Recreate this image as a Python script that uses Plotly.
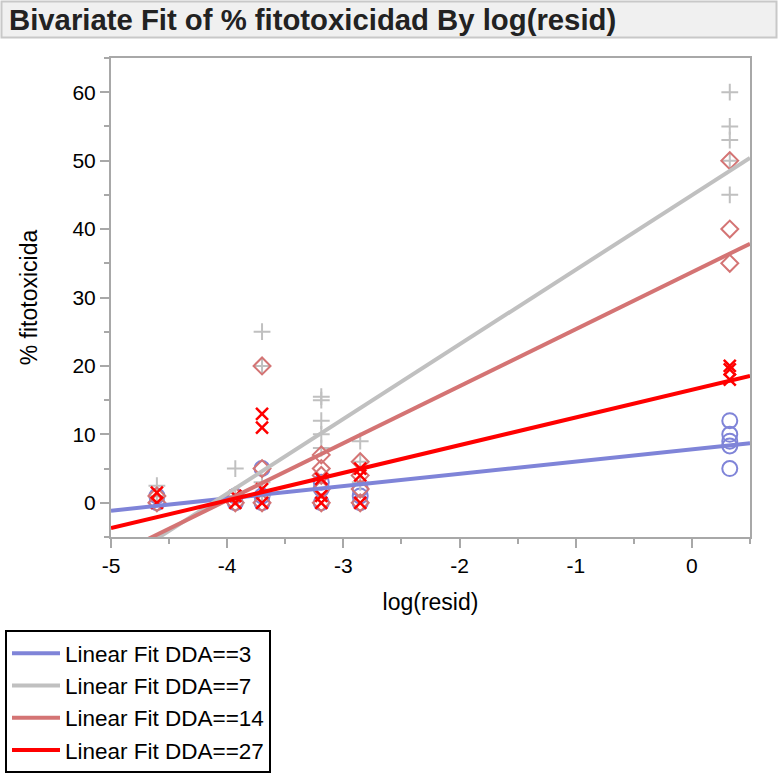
import plotly.graph_objects as go

# ---------------- data ----------------
x3 = [-4.605, -4.605, -3.93, -3.93, -3.70, -3.70, -3.70, -3.19, -3.19, -3.19, -2.855, -2.855, -2.855,
      0.326, 0.326, 0.326, 0.326, 0.326]
y3 = [0, 1, 0, 1, 5, 1, 0, 3, 2, 0, 2, 1, 0,
      12, 10, 9, 8.3, 5]

x7 = [-4.605, -4.605, -3.93, -3.93, -3.70, -3.70, -3.70, -3.70, -3.19, -3.19, -3.19, -3.19, -3.19,
      -2.855, -2.855, -2.855, 0.326, 0.326, 0.326, 0.326, 0.326]
y7 = [2.5, 1, 5, 1, 25, 20, 3, 1, 15.5, 15, 12, 10, 8,
      9, 6, 3, 60, 55, 53, 50, 45]

x14 = [-4.605, -4.605, -3.93, -3.93, -3.70, -3.70, -3.70, -3.19, -3.19, -3.19, -3.19, -3.19,
       -2.855, -2.855, -2.855, -2.855, 0.326, 0.326, 0.326]
y14 = [1, 0, 1, 0, 20, 5, 0, 7, 5, 4, 2, 0,
       6, 4, 2, 0, 50, 40, 35]

x27 = [-4.605, -4.605, -3.93, -3.93, -3.70, -3.70, -3.70, -3.70, -3.19, -3.19, -3.19,
       -2.855, -2.855, -2.855, 0.326, 0.326, 0.326]
y27 = [1.5, 0, 1, 0, 13, 11, 2, 0, 3.5, 1, 0,
       5, 4, 0, 20, 19.5, 18]

# linear fits (intercept, slope)
fit_names = ["Linear Fit DDA==3", "Linear Fit DDA==7", "Linear Fit DDA==14", "Linear Fit DDA==27"]
fit_intercepts = [7.8, 44.95, 33.7, 16.5]
fit_slopes = [1.79, 10.9, 8.33, 4.04]

x_range = [-5, 0.5]
y_range = [-5, 65]
x_ticks = [-5, -4, -3, -2, -1, 0]
y_ticks = [0, 10, 20, 30, 40, 50, 60]

# ---------------- styling ----------------
c_blue = "#7f84d8"
c_gray = "#c0c0c0"
c_rose = "#d47474"
c_red = "#ff0000"
axis_col = "#a8a8a8"
FONT = "Liberation Sans, Arial, sans-serif"

W, H = 778, 776
L, R, T, B = 111, 28, 58, 239
PW, PH = W - L - R, H - T - B


def px_x(px):
    return (px - L) / PW


def px_y(py):
    return (H - B - py) / PH


fig = go.Figure()

marker_sets = [
    (x3, y3, dict(symbol="circle-open", size=15, color=c_blue, line=dict(width=2, color=c_blue))),
    (x7, y7, dict(symbol="cross-thin-open", size=12, color=c_gray, line=dict(width=2, color=c_gray))),
    (x14, y14, dict(symbol="diamond-open", size=13, color=c_rose, line=dict(width=2, color=c_rose))),
    (x27, y27, dict(symbol="x-thin-open", size=12, color=c_red, line=dict(width=2.5, color=c_red))),
]
for xs, ys, mk in marker_sets:
    fig.add_trace(go.Scatter(x=xs, y=ys, mode="markers", marker=mk, showlegend=False,
                             hoverinfo="x+y"))

for name, b0, b1, col in zip(fit_names, fit_intercepts, fit_slopes, [c_blue, c_gray, c_rose, c_red]):
    xs = list(x_range)
    ys = [b0 + b1 * v for v in xs]
    fig.add_trace(go.Scatter(x=xs, y=ys, mode="lines", name=name,
                             line=dict(color=col, width=4), cliponaxis=True))

fig.update_layout(
    width=W, height=H,
    margin=dict(l=L, r=R, t=T, b=B, pad=0, autoexpand=False),
    paper_bgcolor="white", plot_bgcolor="white",
    font=dict(family=FONT, size=20, color="black"),
    showlegend=True,
    legend=dict(
        x=px_x(5), y=px_y(630), xanchor="left", yanchor="top",
        bordercolor="black", borderwidth=2, bgcolor="white",
        font=dict(family=FONT, size=22.5, color="black"),
        traceorder="normal", itemwidth=48,
    ),
    xaxis=dict(
        range=x_range, tickvals=x_ticks, ticktext=[str(v) for v in x_ticks],
        showgrid=False, zeroline=False, automargin=False,
        showline=True, linecolor=axis_col, linewidth=2, mirror=True,
        ticks="outside", ticklen=9, tickwidth=2, tickcolor=axis_col,
        minor=dict(ticks="outside", ticklen=5, tickwidth=2, tickcolor=axis_col, dtick=0.5, tick0=0),
        tickfont=dict(size=21),
        title=dict(text="log(resid)", font=dict(size=23), standoff=18),
    ),
    yaxis=dict(
        range=y_range, tickvals=y_ticks, ticktext=[str(v) for v in y_ticks],
        showgrid=False, zeroline=False, automargin=False,
        showline=True, linecolor=axis_col, linewidth=2, mirror=True,
        ticks="outside", ticklen=9, tickwidth=2, tickcolor=axis_col,
        minor=dict(ticks="outside", ticklen=5, tickwidth=2, tickcolor=axis_col, dtick=5, tick0=0),
        tickfont=dict(size=21),
        title=dict(text="% fitotoxicida", font=dict(size=23), standoff=28),
    ),
    shapes=[
        dict(type="rect", xref="paper", yref="paper",
             x0=px_x(1.5), x1=px_x(776.5), y0=px_y(37.5), y1=px_y(1.5),
             fillcolor="#f0f0f0", line=dict(color="#c8c8c8", width=2), layer="below"),
    ],
    annotations=[
        dict(text="<b>Bivariate Fit of % fitotoxicidad By log(resid)</b>",
             xref="paper", yref="paper", x=px_x(7), y=px_y(19.5),
             xanchor="left", yanchor="middle", showarrow=False,
             font=dict(family=FONT, size=29.3, color="#222222")),
    ],
)

fig.write_html("out.html")
